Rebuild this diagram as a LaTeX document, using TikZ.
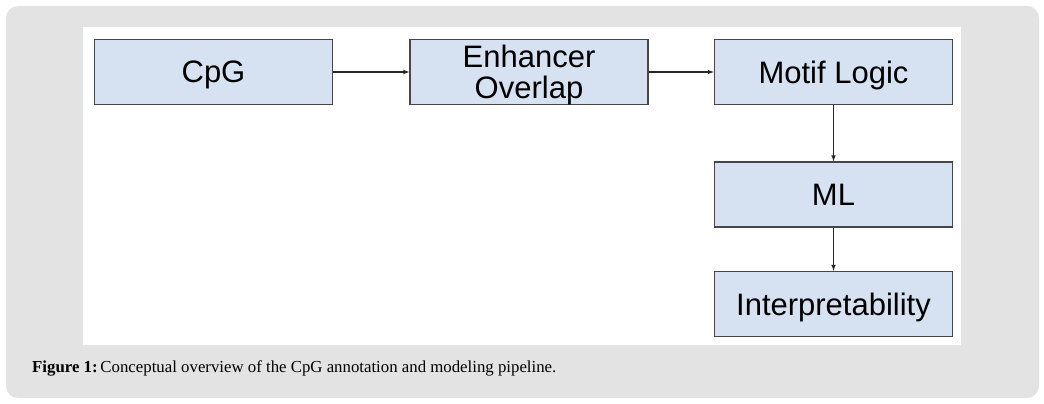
\documentclass[tikz,border=0pt]{standalone}
\usepackage{fontspec}
\setmainfont{Liberation Serif}
\newfontfamily\boxfont{Liberation Sans}
\usetikzlibrary{arrows}
\definecolor{boxblue}{RGB}{214,226,241}
\definecolor{framegray}{RGB}{227,227,227}
\definecolor{edgegray}{RGB}{70,70,70}

\begin{document}
\begin{tikzpicture}[x=1pt,y=-1pt,
  stage/.style={draw=edgegray,fill=boxblue,line width=1.3pt,
    minimum width=238pt,minimum height=65pt,inner sep=0pt,align=center,
    text depth=0pt,font=\boxfont\fontsize{31}{31}\selectfont},
  flow/.style={-latex,draw=black!85,line width=1.1pt}]
  \useasboundingbox (0,0) rectangle (1044,404);
  % draw frame
  \fill[framegray,rounded corners=12pt] (6,6) rectangle (1039,398);
  \fill[white] (83,27) rectangle (961,345);
  % draw stages
  \node[stage] (cpg)     at (213.5,72)  {CpG};
  \node[stage] (enhance) at (529,72)    {Enhancer\\Overlap};
  \node[stage] (motif)   at (833.5,72)  {Motif Logic};
  \node[stage] (ml)      at (833.5,194.5) {ML};
  \node[stage] (interp)  at (833.5,304) {Interpretability};
  % draw arrows
  \draw[flow] (cpg) -- (enhance);
  \draw[flow] (enhance) -- (motif);
  \draw[flow] (motif) -- (ml);
  \draw[flow] (ml) -- (interp);
  % draw caption
  \node[anchor=base west,inner sep=0pt,font=\fontsize{16.8}{18}\selectfont]
    (caption) at (32,372) {\textbf{Figure 1:}\,Conceptual overview of the CpG annotation and modeling pipeline.};
\end{tikzpicture}
\end{document}
